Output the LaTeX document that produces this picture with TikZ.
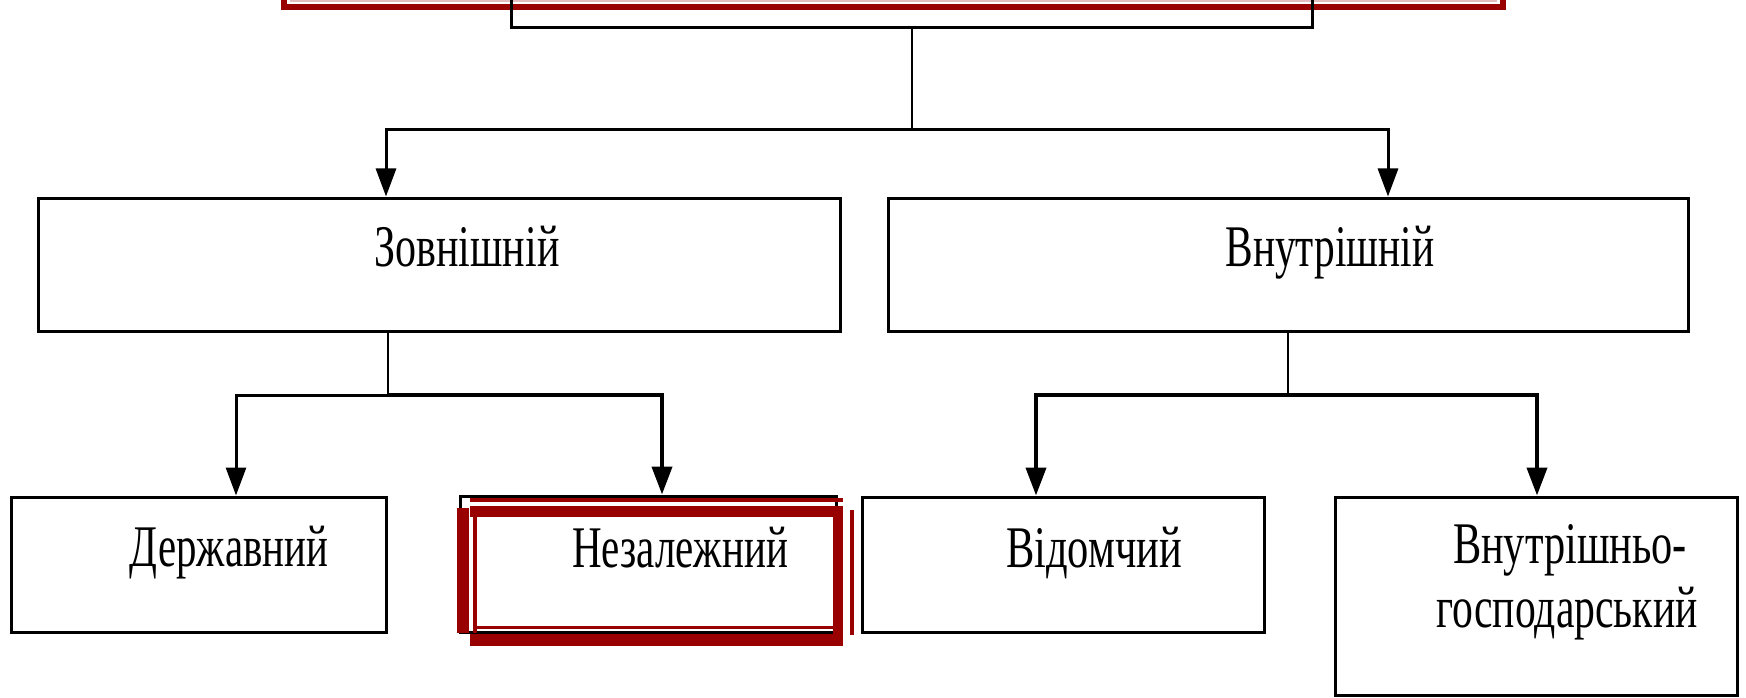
\documentclass[tikz,border=0pt]{standalone}
\usepackage{fontspec}
\setmainfont{Liberation Serif}
\usepackage{graphicx}
\usetikzlibrary{arrows.meta}
\definecolor{hl}{RGB}{153,0,0}
\definecolor{hlpale}{RGB}{228,190,190}
\newcommand{\fitw}[2]{\resizebox{#1pt}{\height}{#2}}
\begin{document}
\begin{tikzpicture}[x=1pt,y=-1pt,
  box/.style={draw=black, line width=3pt, rectangle, inner sep=0pt, fill=white},
  lbl/.style={font=\fontsize{59}{64}\selectfont, inner sep=0pt, anchor=base},
  conn/.style={line width=3pt},
  thinconn/.style={line width=2pt},
  arr/.style={line width=3pt, -{Triangle[width=20pt,length=28pt]}},
  arrb/.style={line width=4pt, -{Triangle[width=20pt,length=28pt]}},
  hlfill/.style={fill=hl}
  ]
\useasboundingbox (0,0) rectangle (1746,698);
\fill[white] (0,0) rectangle (1746,698);
\clip (0,0) rectangle (1746,698);

% highlighted top frame
\draw[hl, line width=6pt] (284,-20) rectangle (1503,7);
\draw[hlpale, line width=2pt] (291,-20) rectangle (1496,1);

% nodes
\node[box, minimum width=801pt, minimum height=80pt, anchor=south, fill=none] (top) at (911.5,29) {};

\node[box, minimum width=802pt, minimum height=133pt] (zov) at (439,264.5) {};
\node[lbl] (zov-t) at (467,266.7) {\fitw{185}{Зовнішній}};

\node[box, minimum width=800pt, minimum height=133pt] (vnut) at (1288,264.5) {};
\node[lbl] (vnut-t) at (1330,266.7) {\fitw{209}{Внутрішній}};

\node[box, minimum width=375pt, minimum height=135pt] (derzh) at (198.5,564.5) {};
\node[lbl] (derzh-t) at (229,566) {\fitw{198}{Державний}};

\node[box, minimum width=376pt, minimum height=136pt] (nezal) at (648.7,564) {};
\node[lbl] (nezal-t) at (680,567) {\fitw{216}{Незалежний}};

\node[box, minimum width=402pt, minimum height=135pt] (vidom) at (1063,564.5) {};
\node[lbl] (vidom-t) at (1094,567) {\fitw{176}{Відомчий}};

\node[box, minimum width=402pt, minimum height=198pt] (vg) at (1536,596) {};
\node[lbl] (vg-t1) at (1570,563) {\fitw{234}{Внутрішньо-}};
\node[lbl] (vg-t2) at (1567,627) {\fitw{261}{господарський}};

% connectors level 1
\coordinate (j1) at (911.5,130);
\draw[thinconn] (top.south) -- (j1);
\draw[arr] (j1) -| ([xshift=-53pt]zov.north);
\draw[arr] (j1) -| ([xshift=100pt]vnut.north);

% connectors level 2 left
\coordinate (j2) at (388,395);
\draw[thinconn] (j2 |- zov.south) -- (j2);
\draw[arr] (j2) -| ([xshift=37.5pt]derzh.north);
\draw[arrb] (j2) -| ([xshift=13.3pt]nezal.north);

% connectors level 2 right
\coordinate (j3) at (1288,395);
\draw[thinconn] (j3 |- vnut.south) -- (j3);
\draw[arrb] (j3) -| ([xshift=-27pt]vidom.north);
\draw[arrb] (j3) -| ([xshift=1pt]vg.north);

% red highlight around "Незалежний"
\fill[hl] (470,498) rectangle (843,502);
\fill[hl] (470,506) rectangle (843,517);
\fill[hl] (457,508) rectangle (469,633);
\fill[hl] (473,508) rectangle (477,633);
\fill[hl] (477,626) rectangle (833,629);
\fill[hl] (470,634) rectangle (843,646);
\fill[hl] (833,508) rectangle (843,635);
\fill[hl] (850,510) rectangle (854,635);
\end{tikzpicture}
\end{document}
